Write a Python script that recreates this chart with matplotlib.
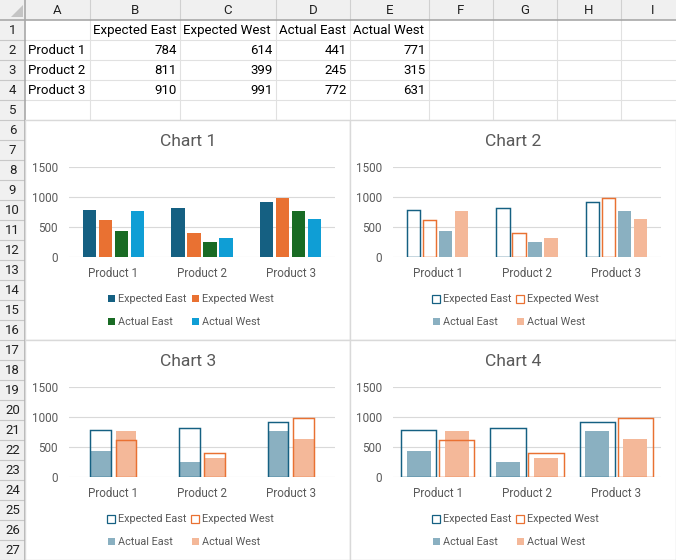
import matplotlib
matplotlib.use("Agg")
import matplotlib.pyplot as plt
from matplotlib.patches import Rectangle, Polygon
import numpy as np

# ── Data ──────────────────────────────────────────────────────────────────────

categories = ["Product 1", "Product 2", "Product 3"]
series = ["Expected East", "Expected West", "Actual East", "Actual West"]
expected_east = [784, 811, 910]
expected_west = [614, 399, 991]
actual_east = [441, 245, 772]
actual_west = [771, 315, 631]
col_letters = ["A", "B", "C", "D", "E", "F", "G", "H", "I"]
n_rows = 27
yticks = [0, 500, 1000, 1500]
chart_titles = ["Chart 1", "Chart 2", "Chart 3", "Chart 4"]

# ── Style ─────────────────────────────────────────────────────────────────────

W, H = 676, 560
EE, EW, AE, AW = "#156082", "#E97132", "#196B24", "#0F9ED5"
AE_LT, AW_LT = "#8AB0C1", "#F4B899"
TXT = "#595959"
GRID = "#D9D9D9"
CELL_LINE = "#E1E1E1"
HDR_BG = "#F0F0F0"
FONT = ["Roboto", "DejaVu Sans"]
plt.rcParams["font.family"] = FONT

fig = plt.figure(figsize=(W / 100, H / 100), dpi=100)
bg = fig.add_axes([0, 0, 1, 1])
bg.set_xlim(0, W)
bg.set_ylim(H, 0)
bg.axis("off")

# ── Spreadsheet grid ──────────────────────────────────────────────────────────

col_edges = [25, 90, 180, 276, 350, 429, 493, 557, 621, 685]
row_h = 20

for x in col_edges[1:-1]:
    bg.plot([x - 0.5, x - 0.5], [20, 120], color=CELL_LINE, lw=0.8, zorder=1)
for r in range(1, 6):
    y = 20 + r * row_h - 0.5
    bg.plot([25, W], [y, y], color=CELL_LINE, lw=0.8, zorder=1)

# header row and row-number column
bg.add_patch(Rectangle((0, 0), W, 19.5, facecolor=HDR_BG, edgecolor="none", zorder=2))
bg.add_patch(Rectangle((0, 0), 25, H, facecolor=HDR_BG, edgecolor="none", zorder=2))
for x in col_edges[1:-1]:
    bg.plot([x - 0.5, x - 0.5], [0, 19.5], color="#D0D0D0", lw=0.8, zorder=3)
for r in range(1, n_rows + 1):
    y = 20 + r * row_h - 0.5
    bg.plot([0, 25], [y, y], color="#C8C8C8", lw=0.8, zorder=3)
bg.plot([0, W], [19.5, 19.5], color="#A8A8A8", lw=1.2, zorder=4)
bg.plot([24.5, 24.5], [0, H], color="#A8A8A8", lw=1.2, zorder=4)
bg.add_patch(Polygon([(22.5, 5), (22.5, 16.5), (11, 16.5)], closed=True,
                     facecolor="#C4C4C4", edgecolor="none", zorder=4))

for i, letter in enumerate(col_letters):
    cx = (col_edges[i] + col_edges[i + 1]) / 2
    bg.text(cx, 10.5, letter, ha="center", va="center", fontsize=9.5,
            color="#222222", zorder=5)
for r in range(1, n_rows + 1):
    bg.text(12.5, 10 + r * row_h + 0.5, str(r), ha="center", va="center",
            fontsize=9.5, color="#222222", zorder=5)

# table contents
for j, name in enumerate(series):
    bg.text(col_edges[j + 1] + 3, 30.5, name, ha="left", va="center",
            fontsize=9.5, color="black", zorder=5)
table = [expected_east, expected_west, actual_east, actual_west]
for i, cat in enumerate(categories):
    y = 50.5 + i * row_h
    bg.text(col_edges[0] + 3, y, cat, ha="left", va="center",
            fontsize=9.5, color="black", zorder=5)
    for j, vals in enumerate(table):
        bg.text(col_edges[j + 2] - 3.5, y, str(vals[i]), ha="right", va="center",
                fontsize=9.5, color="black", zorder=5)

# ── Charts ────────────────────────────────────────────────────────────────────

boxes = [(25, 119.5, 350, 339.5), (350, 119.5, 676, 339.5),
         (25, 339.5, 350, 560), (350, 339.5, 676, 560)]
plot_areas = [(69, 167, 335, 257), (393, 167, 661, 257),
              (69, 387, 335, 477), (393, 387, 661, 477)]

for (x0, y0, x1, y1) in boxes:
    bg.add_patch(Rectangle((x0, y0), x1 - x0, y1 - y0, facecolor="white",
                           edgecolor=GRID, lw=1.0, zorder=6))

x = np.arange(len(categories))
axes = []
for k, (x0, y0, x1, y1) in enumerate(plot_areas):
    ax = fig.add_axes([x0 / W, 1 - y1 / H, (x1 - x0) / W, (y1 - y0) / H])
    ax.set_facecolor("none")
    ax.set_xlim(-0.5, len(categories) - 0.5)
    ax.set_ylim(0, 1500)
    ax.set_yticks(yticks)
    ax.set_xticks(x)
    ax.set_xticklabels(categories)
    ax.tick_params(length=0, colors=TXT, labelsize=8.4)
    ax.tick_params(axis="y", pad=8)
    ax.tick_params(axis="x", pad=7.5)
    for s in ax.spines.values():
        s.set_visible(False)
    ax.set_axisbelow(True)
    ax.grid(axis="y", color=GRID, lw=0.8)
    bx0, by0, bx1, _ = boxes[k]
    bg.text((bx0 + bx1) / 2 + 0.5, by0 + 22, chart_titles[k], ha="center",
            va="center", fontsize=12.6, color=TXT, zorder=7)
    axes.append(ax)

LW = 1.05

# Chart 1: plain clustered columns
ax = axes[0]
step, w = 0.18, 0.15
for i, (vals, c) in enumerate(zip(table, [EE, EW, AE, AW])):
    ax.bar(x + (i - 1.5) * step, vals, w, color=c)

# Chart 2: outlined expected, light actual
ax = axes[1]
ax.bar(x - 1.5 * step, expected_east, w, facecolor="none", edgecolor=EE, lw=LW)
ax.bar(x - 0.5 * step, expected_west, w, facecolor="none", edgecolor=EW, lw=LW)
ax.bar(x + 0.5 * step, actual_east, w, color=AE_LT)
ax.bar(x + 1.5 * step, actual_west, w, color=AW_LT)

# Chart 3: actual inside expected, same width
ax = axes[2]
off, w3 = 0.143, 0.23
ax.bar(x - off, actual_east, w3, color=AE_LT)
ax.bar(x + off, actual_west, w3, color=AW_LT)
ax.bar(x - off, expected_east, w3, facecolor="none", edgecolor=EE, lw=LW)
ax.bar(x + off, expected_west, w3, facecolor="none", edgecolor=EW, lw=LW)

# Chart 4: narrower actual inside wider expected
ax = axes[3]
off4, we, wa = 0.212, 0.395, 0.27
ax.bar(x - off4, actual_east, wa, color=AE_LT)
ax.bar(x + off4, actual_west, wa, color=AW_LT)
ax.bar(x - off4, expected_east, we, facecolor="none", edgecolor=EE, lw=LW)
ax.bar(x + off4, expected_west, we, facecolor="none", edgecolor=EW, lw=LW)

# ── Legends ───────────────────────────────────────────────────────────────────

legend_styles = [
    [(EE, None), (EW, None), (AE, None), (AW, None)],
    [(None, EE), (None, EW), (AE_LT, None), (AW_LT, None)],
    [(None, EE), (None, EW), (AE_LT, None), (AW_LT, None)],
    [(None, EE), (None, EW), (AE_LT, None), (AW_LT, None)],
]
slots = [(83, 179), (167, 179), (83, 202), (167, 202)]
for k, (bx0, by0, _, _) in enumerate(boxes):
    for (dx, dy), name, (face, edge) in zip(slots, series, legend_styles[k]):
        mx, my = bx0 + dx, by0 + dy
        if edge is None:
            bg.add_patch(Rectangle((mx, my - 3.5), 7, 7, facecolor=face,
                                   edgecolor="none", zorder=7))
        else:
            bg.add_patch(Rectangle((mx - 1, my - 4), 8, 8, facecolor="none",
                                   edgecolor=edge, lw=0.9, zorder=7))
        bg.text(mx + 10, my + 0.5, name, ha="left", va="center",
                fontsize=7.8, color=TXT, zorder=7)

fig.savefig("out.png", dpi=100)
